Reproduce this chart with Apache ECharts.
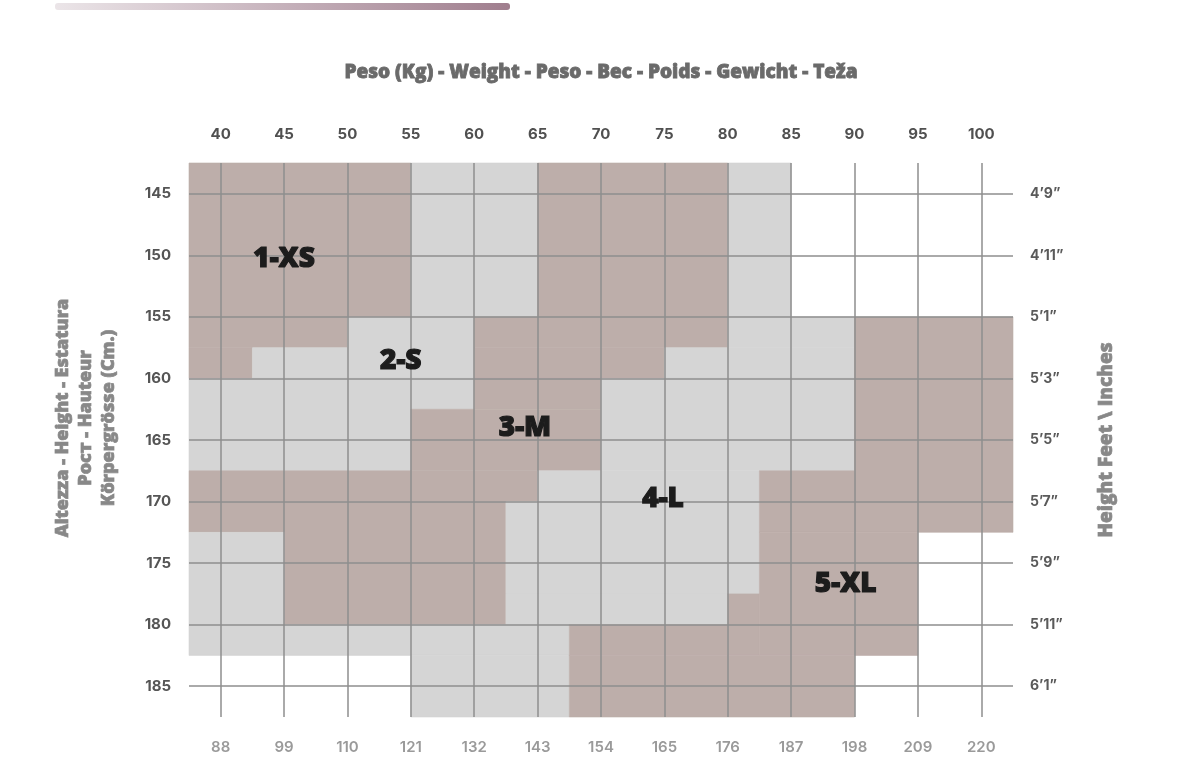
<!DOCTYPE html>
<html>
<head>
<meta charset="utf-8">
<script src="https://cdn.jsdelivr.net/npm/echarts@6/dist/echarts.min.js"></script>
<style>
html,body{margin:0;padding:0;background:#fff;}
#chart{width:1186px;height:774px;}
</style>
</head>
<body>
<div id="chart"></div>
<script>
// ---- data ----
const weightTicks = [40, 45, 50, 55, 60, 65, 70, 75, 80, 85, 90, 95, 100];
const lbsLabels = ['88', '99', '110', '121', '132', '143', '154', '165', '176', '187', '198', '209', '220'];
const heightTicks = [145, 150, 155, 160, 165, 170, 175, 180, 185];
const feetLabels = ['4’9”', '4’11”', '5’1”', '5’3”', '5’5”', '5’7”', '5’9”', '5’11”', '6’1”'];

// regions: [weightFrom, weightTo, heightFrom, heightTo]
const sizeXS = [[37.5, 55, 142.5, 155], [37.5, 50, 155, 157.5], [37.5, 42.5, 157.5, 160]];
const sizeS = [[55, 65, 142.5, 155], [50, 60, 155, 160], [55, 60, 160, 162.5], [42.5, 50, 157.5, 160], [37.5, 55, 160, 167.5]];
const sizeM = [[65, 80, 142.5, 155], [60, 80, 155, 157.5], [60, 75, 157.5, 160], [60, 70, 160, 162.5], [55, 70, 162.5, 167.5], [37.5, 65, 167.5, 170], [37.5, 45, 170, 172.5], [45, 62.5, 170, 180]];
const sizeL = [[80, 85, 142.5, 155], [80, 90, 155, 157.5], [75, 90, 157.5, 160], [70, 90, 160, 167.5], [65, 82.5, 167.5, 170], [62.5, 82.5, 170, 177.5], [62.5, 80, 177.5, 180], [37.5, 45, 172.5, 180], [37.5, 67.5, 180, 182.5], [55, 67.5, 182.5, 187.5]];
const sizeXL = [[90, 102.5, 155, 172.5], [82.5, 90, 167.5, 172.5], [82.5, 95, 172.5, 182.5], [80, 82.5, 177.5, 182.5], [67.5, 90, 182.5, 187.5], [67.5, 80, 180, 182.5]];

const sizeNames = ['1-XS', '2-S', '3-M', '4-L', '5-XL'];
const labelAnchors = [[45, 150.3], [54.2, 158.6], [64, 164], [74.9, 169.8], [89.3, 176.7]];

// ---- styling ----
const ROSE = '#bdaeaa';
const GREY = '#d5d5d5';
const FONT = 'Inter, "Open Sans", sans-serif';
const HEAVY = '"Open Sans", "DejaVu Sans", sans-serif';

const chart = echarts.init(document.getElementById('chart'));

function regionSeries(name, data, color) {
  return {
    name: name,
    type: 'custom',
    xAxisIndex: 0, yAxisIndex: 0,
    z: 1,
    silent: true,
    encode: { x: [0, 1], y: [2, 3] },
    data: data,
    renderItem: function (params, api) {
      const p0 = api.coord([api.value(0), api.value(2)]);
      const p1 = api.coord([api.value(1), api.value(3)]);
      return {
        type: 'rect',
        shape: {
          x: Math.min(p0[0], p1[0]), y: Math.min(p0[1], p1[1]),
          width: Math.abs(p1[0] - p0[0]), height: Math.abs(p1[1] - p0[1])
        },
        style: { fill: color, stroke: color, lineWidth: 0.6 }
      };
    }
  };
}

const lw = 1.5, lc = '#8e8e8e';

const option = {
  backgroundColor: '#ffffff',
  animation: false,
  grid: { left: 189, right: 173, top: 163, bottom: 57 },
  xAxis: [
    {
      type: 'value', position: 'top', min: 37.5, max: 102.5, interval: 2.5,
      axisLine: { show: false }, axisTick: { show: false }, splitLine: { show: false },
      axisLabel: {
        margin: 21, color: '#505050', fontFamily: FONT, fontWeight: 700, fontSize: 15,
        formatter: v => weightTicks.includes(v) ? String(v) : ''
      }
    },
    {
      type: 'value', position: 'bottom', min: 37.5, max: 102.5, interval: 2.5,
      axisLine: { show: false }, axisTick: { show: false }, splitLine: { show: false },
      axisLabel: {
        margin: 23, color: '#9a9a9a', fontFamily: FONT, fontWeight: 600, fontSize: 15,
        formatter: v => { const i = weightTicks.indexOf(v); return i >= 0 ? lbsLabels[i] : ''; }
      }
    }
  ],
  yAxis: [
    {
      type: 'value', position: 'left', inverse: true, min: 142.5, max: 187.5, interval: 2.5,
      axisLine: { show: false }, axisTick: { show: false }, splitLine: { show: false },
      axisLabel: {
        margin: 18, color: '#555', fontFamily: FONT, fontWeight: 700, fontSize: 15,
        formatter: v => heightTicks.includes(v) ? String(v) : ''
      }
    },
    {
      type: 'value', position: 'right', inverse: true, min: 142.5, max: 187.5, interval: 2.5,
      axisLine: { show: false }, axisTick: { show: false }, splitLine: { show: false },
      axisLabel: {
        margin: 17, color: '#5a5a5a', fontFamily: FONT, fontWeight: 700, fontSize: 14,
        formatter: v => { const i = heightTicks.indexOf(v); return i >= 0 ? feetLabels[i] : ''; }
      }
    }
  ],
  series: [
    regionSeries('1-XS', sizeXS, ROSE),
    regionSeries('2-S', sizeS, GREY),
    regionSeries('3-M', sizeM, ROSE),
    regionSeries('4-L', sizeL, GREY),
    regionSeries('5-XL', sizeXL, ROSE),
    {
      name: 'grid', type: 'line', data: [], z: 5, silent: true,
      markLine: {
        silent: true, symbol: ['none', 'none'], animation: false,
        label: { show: false },
        lineStyle: { color: lc, width: lw, type: 'solid' },
        emphasis: { disabled: true },
        data: weightTicks.map(v => ({ xAxis: v })).concat(heightTicks.map(v => ({ yAxis: v })))
      }
    },
    {
      name: 'labels', type: 'custom', z: 10, silent: true,
      data: labelAnchors.map((p, i) => [p[0], p[1], i]),
      renderItem: function (params, api) {
        const p = api.coord([api.value(0), api.value(1)]);
        return {
          type: 'text',
          x: p[0], y: p[1],
          style: {
            text: sizeNames[api.value(2)],
            fill: '#1c1c1c',
            font: '800 28px ' + HEAVY,
            stroke: '#1c1c1c', lineWidth: 1.2,
            textAlign: 'center', textVerticalAlign: 'middle'
          }
        };
      }
    }
  ],
  graphic: [
    {
      type: 'rect', left: 55, top: 3, shape: { width: 455, height: 7, r: 3 },
      style: {
        fill: new echarts.graphic.LinearGradient(0, 0, 1, 0, [
          { offset: 0, color: '#ebe5e8' }, { offset: 1, color: '#a07e8e' }
        ])
      }
    },
    {
      type: 'text', x: 601, y: 73,
      style: {
        text: 'Peso (Kg) - Weight - Peso - Вес - Poids - Gewicht - Teža',
        font: '800 19px ' + HEAVY, fill: '#6a6a6a',
        stroke: '#6a6a6a', lineWidth: 0.8,
        textAlign: 'center', textVerticalAlign: 'middle'
      }
    },
    {
      type: 'text', x: 86, y: 418, rotation: Math.PI / 2,
      style: {
        text: 'Altezza - Height - Estatura\nРост - Hauteur\nKörpergrösse (Cm.)',
        font: '800 18px ' + HEAVY, fill: '#888888', lineHeight: 23,
        stroke: '#888888', lineWidth: 0.7,
        textAlign: 'center', textVerticalAlign: 'middle'
      }
    },
    {
      type: 'text', x: 1107, y: 440, rotation: Math.PI / 2,
      style: {
        text: 'Height Feet \\ Inches',
        font: '800 19px ' + HEAVY, fill: '#888888',
        stroke: '#888888', lineWidth: 0.7,
        textAlign: 'center', textVerticalAlign: 'middle'
      }
    }
  ]
};
chart.setOption(option);
</script>
</body>
</html>
